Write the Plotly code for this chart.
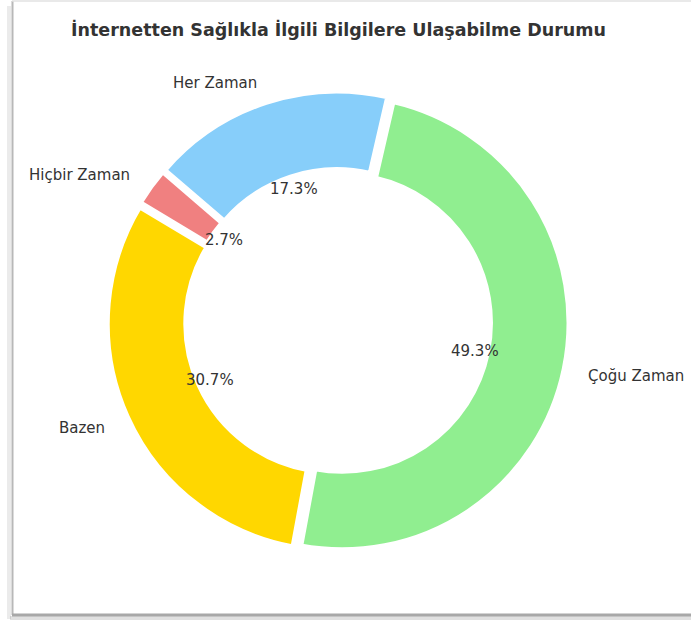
import math
import plotly.graph_objects as go

# ---- data (clockwise order starting near 12 o'clock) ----
labels = ["Çoğu Zaman", "Bazen", "Hiçbir Zaman", "Her Zaman"]
values = [49.3, 30.7, 2.7, 17.3]
colors = ["#90EE90", "#FFD700", "#F08080", "#87CEFA"]
title = "İnternetten Sağlıkla İlgili Bilgilere Ulaşabilme Durumu"

# ---- layout constants ----
W, H = 691, 621
CX, CY = 338, 322          # pie centre in pixels (from top-left)
R = 227                    # pie radius in pixels
PULL = 0.018
HOLE = 0.654
START_DEG = 77             # math angle where first slice starts (clockwise)
FONT = "DejaVu Sans"
TXT = "#333333"

Rd = R * (1 + PULL)

fig = go.Figure()
fig.add_trace(go.Pie(
    labels=labels,
    values=values,
    sort=False,
    direction="clockwise",
    rotation=90 - START_DEG,
    hole=HOLE,
    pull=[PULL] * len(values),
    marker=dict(colors=colors, line=dict(color="white", width=5)),
    textinfo="none",
    hoverinfo="label+percent",
    showlegend=False,
    domain=dict(x=[(CX - Rd) / W, (CX + Rd) / W],
                y=[1 - (CY + Rd) / H, 1 - (CY - Rd) / H]),
))

annotations = []
total = sum(values)
cum = 0.0
for lab, v in zip(labels, values):
    mid = START_DEG - 360 * (cum + v / 2) / total
    cum += v
    a = math.radians(mid)
    c, s = math.cos(a), math.sin(a)
    # percentage label
    rp = 0.6 * R + PULL * R
    px, py = CX + rp * c, CY - rp * s
    annotations.append(dict(
        x=px / W, y=1 - py / H, xref="paper", yref="paper",
        text=f"{v / total * 100:.1f}%", showarrow=False,
        xanchor="center", yanchor="middle",
        font=dict(family=FONT, size=15, color=TXT)))
    # category label
    rl = 1.1 * R + PULL * R
    lx, ly = CX + rl * c, CY - rl * s
    annotations.append(dict(
        x=lx / W, y=1 - (ly + 2) / H, xref="paper", yref="paper",
        text=lab, showarrow=False,
        xanchor="left" if c >= 0 else "right", yanchor="middle",
        font=dict(family=FONT, size=15, color=TXT)))

# title
annotations.append(dict(
    x=338.5 / W, y=1 - 30 / H, xref="paper", yref="paper",
    text=f"<b>{title}</b>", showarrow=False,
    xanchor="center", yanchor="middle",
    font=dict(family=FONT, size=17.5, color=TXT)))

# frame with soft shadow
shapes = [
    dict(type="line", xref="paper", yref="paper", x0=9 / W, x1=9 / W,
         y0=1 - 6 / H, y1=1 - 619 / H, line=dict(color="rgba(0,0,0,0.08)", width=4)),
    dict(type="line", xref="paper", yref="paper", x0=10 / W, x1=1,
         y0=1 - 618 / H, y1=1 - 618 / H, line=dict(color="rgba(0,0,0,0.12)", width=4)),
    dict(type="line", xref="paper", yref="paper", x0=12.5 / W, x1=12.5 / W,
         y0=1 - 1 / H, y1=1 - 615 / H, line=dict(color="#b8b8b8", width=2)),
    dict(type="line", xref="paper", yref="paper", x0=12 / W, x1=1,
         y0=1 - 615 / H, y1=1 - 615 / H, line=dict(color="#a8a8a8", width=3)),
    dict(type="line", xref="paper", yref="paper", x0=12 / W, x1=1,
         y0=1 - 1 / H, y1=1 - 1 / H, line=dict(color="#e2e2e2", width=1.5)),
]

fig.update_layout(
    width=W, height=H,
    margin=dict(l=0, r=0, t=0, b=0),
    paper_bgcolor="white", plot_bgcolor="white",
    annotations=annotations, shapes=shapes,
    font=dict(family=FONT, color=TXT),
)

fig.write_html("out.html", config={"displayModeBar": False},
               post_script="document.body.style.margin='0px';")
